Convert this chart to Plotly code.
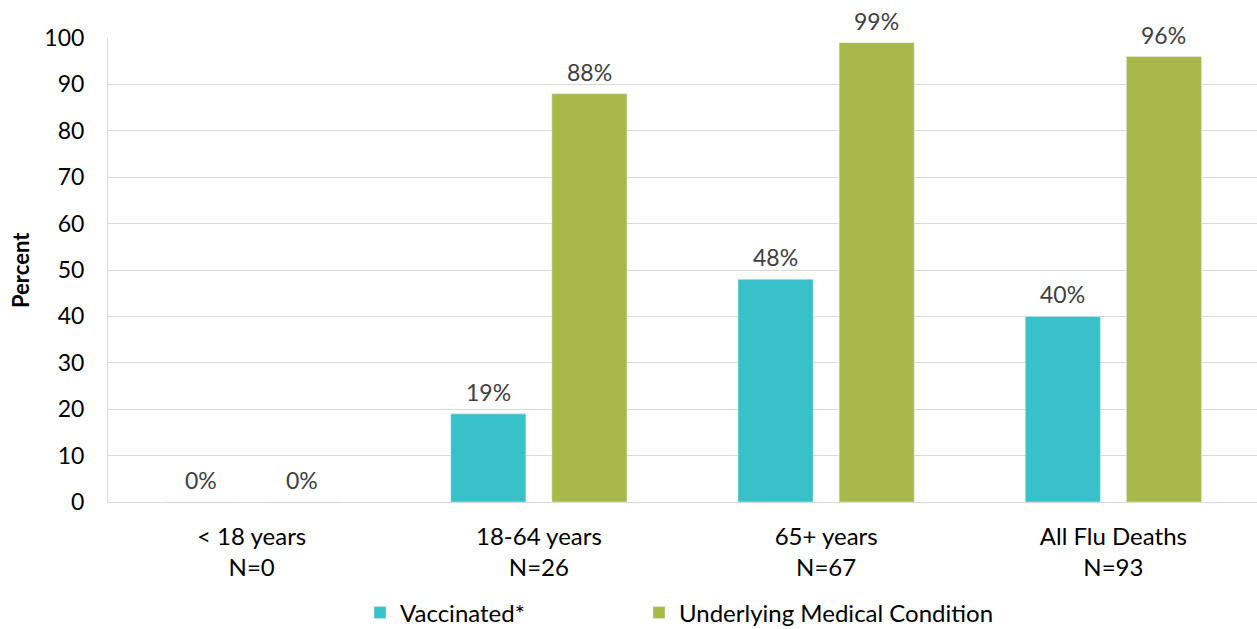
import plotly.graph_objects as go

categories = ["&lt; 18 years<br>N=0", "18-64 years<br>N=26", "65+ years<br>N=67", "All Flu Deaths<br>N=93"]
vaccinated = [0, 19, 48, 40]
underlying = [0, 88, 99, 96]
y_ticks = [0, 10, 20, 30, 40, 50, 60, 70, 80, 90, 100]

FONT = "Lato, 'Open Sans', sans-serif"
W, H = 1257, 629
ML, MR, MT, MB = 108, 0, 38, 127
BARGAP, GROUPGAP = 0.296, 0.257

fig = go.Figure()
fig.add_trace(go.Bar(
    x=categories, y=vaccinated, name="Vaccinated*",
    marker_color="#38c1c8", legend="legend",
))
fig.add_trace(go.Bar(
    x=categories, y=underlying, name="Underlying Medical Condition",
    marker_color="#a8b94a", legend="legend2",
))

# value labels, offset to each bar of the group
cat_px = (W - ML - MR) / len(categories)
slot_px = cat_px * (1 - BARGAP) / 2
for series, shift in ((vaccinated, -slot_px / 2), (underlying, slot_px / 2)):
    for c, v in zip(categories, series):
        fig.add_annotation(x=c, y=v, text=f"{v}%", showarrow=False,
                           xshift=shift, yshift=22, yanchor="middle",
                           font=dict(size=23, color="#404040", family=FONT))

# y axis title
fig.add_annotation(xref="paper", yref="paper", x=(20 - ML) / (W - ML - MR), y=0.5,
                   text="<b>Percent</b>", textangle=-90, showarrow=False,
                   xanchor="center", yanchor="middle",
                   font=dict(size=22, color="#000000", family=FONT))

fig.update_layout(
    width=W, height=H,
    margin=dict(l=ML, r=MR, t=MT, b=MB, autoexpand=False),
    paper_bgcolor="white", plot_bgcolor="white",
    barmode="group", bargap=BARGAP, bargroupgap=GROUPGAP,
    font=dict(family=FONT, size=23, color="#000000"),
    showlegend=True,
    legend=dict(xref="container", yref="container", x=(380 - 20) / W, xanchor="left",
                y=(H - 613) / H, yanchor="middle",
                font=dict(size=24, color="#000000"), bgcolor="rgba(0,0,0,0)"),
    legend2=dict(xref="container", yref="container", x=(659 - 20) / W, xanchor="left",
                 y=(H - 613) / H, yanchor="middle",
                 font=dict(size=24, color="#000000"), bgcolor="rgba(0,0,0,0)"),
)
fig.update_yaxes(
    range=[0, 100], tickvals=y_ticks, showgrid=True, gridcolor="#d9d9d9", gridwidth=1,
    showline=True, linecolor="#d9d9d9", zeroline=False, ticks="",
    tickfont=dict(size=23, color="#000000"), ticklabelstandoff=18,
    automargin=False, fixedrange=True,
)
fig.update_xaxes(
    showline=True, linecolor="#d9d9d9", showgrid=False, ticks="",
    tickfont=dict(size=24, color="#000000"), ticklabelstandoff=13,
    automargin=False, fixedrange=True,
)

fig.write_html("out.html", config={"displayModeBar": False},
               post_script="document.body.style.margin='0';")
